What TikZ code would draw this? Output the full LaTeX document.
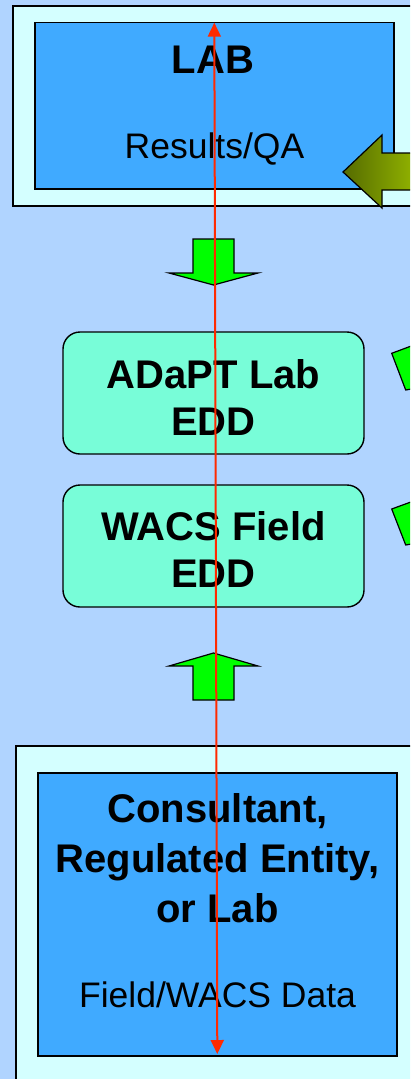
\documentclass[tikz,border=0pt]{standalone}
\usepackage{fontspec}
\setmainfont{Liberation Sans}
\usetikzlibrary{arrows.meta}
\definecolor{bgblue}{HTML}{B0D4FF}
\definecolor{outercyan}{HTML}{D4FFFF}
\definecolor{innerblue}{HTML}{40AAFF}
\definecolor{eddgreen}{HTML}{78FDD8}
\definecolor{brightgreen}{HTML}{00FF00}
\definecolor{oliveL}{HTML}{556B00}
\definecolor{oliveR}{HTML}{9EC200}
\definecolor{redline}{HTML}{FF2A00}
\tikzset{
  outerbox/.style={draw=black, line width=1.6pt, fill=outercyan},
  innerbox/.style={draw=black, line width=1.4pt, fill=innerblue},
  eddbox/.style={draw=black, line width=1.4pt, fill=eddgreen, rounded corners=17pt},
  greenarrow/.style={draw=black, line width=1.2pt, fill=brightgreen, line join=miter},
  titletext/.style={anchor=base, inner sep=0pt, font=\fontsize{40}{47}\selectfont\bfseries},
  subtext/.style={anchor=base, inner sep=0pt, font=\fontsize{35.5}{42}\selectfont},
  redarrow/.style={draw=redline, line width=2pt, {Triangle[length=14pt,width=13pt]}-{Triangle[length=14pt,width=13pt]}}
}
\begin{document}
\begin{tikzpicture}[x=1pt,y=-1pt]
\useasboundingbox (0,0) rectangle (410,1079);
\clip (0,0) rectangle (410,1079);
\fill[bgblue] (0,0) rectangle (410,1079);

% top LAB block
\draw[outerbox] (12.7,6) rectangle (440,205.7);
\draw[innerbox] (35,22.7) rectangle (394,189);
\node[titletext] (lab) at (213,73) {LAB};
\node[subtext] (labqa) at (214.5,158) {Results/QA};

% olive arrow into LAB
\path[draw=black, line width=1.2pt, left color=oliveL, right color=oliveR, line join=miter]
  (343,172) -- (382,135) -- (382,153) -- (430,153) -- (430,190) -- (382,190) -- (382,208) -- cycle;

% green down arrow
\draw[greenarrow] (193,239) -- (234,239) -- (234,273) -- (258,273) -- (213.5,285) -- (169,273) -- (193,273) -- cycle;

% EDD boxes
\draw[eddbox] (63,332) rectangle (364,454);
\node[titletext] (adapt1) at (213.5,388) {ADaPT Lab};
\node[titletext] (adapt2) at (213.5,435) {EDD};
\draw[eddbox] (63,485) rectangle (364,607);
\node[titletext] (wacs1) at (213.5,540) {WACS Field};
\node[titletext] (wacs2) at (213.5,587) {EDD};

% partial green shapes at right
\draw[greenarrow] (391.7,353.3) -- (430,339) -- (430,386) -- (405.7,390) -- cycle;
\draw[greenarrow] (391.7,509) -- (430,495) -- (430,541) -- (405.7,545) -- cycle;

% green up arrow
\draw[greenarrow] (213.5,653) -- (258,666) -- (234,666) -- (234,700) -- (193,700) -- (193,666) -- (169,666) -- cycle;

% bottom block
\draw[outerbox] (15.7,745.7) rectangle (440,1100);
\draw[innerbox] (38,773) rectangle (397,1056);
\node[titletext] (cons1) at (217.5,822) {Consultant,};
\node[titletext] (cons2) at (217.5,872) {Regulated Entity,};
\node[titletext] (cons3) at (217.5,922) {or Lab};
\node[subtext] (field) at (217.5,1007) {Field/WACS Data};

% red double arrow
\coordinate (rtop) at (214.3,22.7);
\coordinate (rbot) at (217.3,1054);
\draw[redarrow] (rtop) -- (rbot);
\end{tikzpicture}
\end{document}
